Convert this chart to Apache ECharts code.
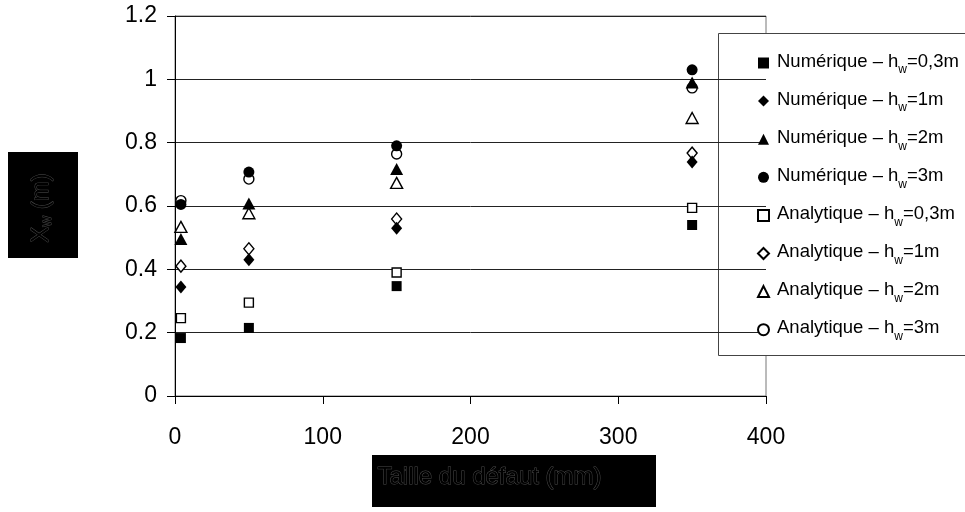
<!DOCTYPE html>
<html>
<head>
<meta charset="utf-8">
<script src="https://cdn.jsdelivr.net/npm/echarts@6/dist/echarts.min.js"></script>
<style>
html,body{margin:0;padding:0;background:#fff;}
#chart{width:965px;height:512px;}
</style>
</head>
<body>
<div id="chart"></div>
<script>
// tailles de défaut (mm)
const tailles = [4, 50, 150, 350]
const xTicks = [0, 100, 200, 300, 400]
const yTicks = [0, 0.2, 0.4, 0.6, 0.8, 1, 1.2]

const numerique03 = [0.183, 0.215, 0.347, 0.54]
const numerique1 = [0.344, 0.43, 0.53, 0.739]
const numerique2 = [0.496, 0.608, 0.717, 0.99]
const numerique3 = [0.605, 0.707, 0.79, 1.03]
const analytique03 = [0.246, 0.295, 0.39, 0.594]
const analytique1 = [0.41, 0.465, 0.559, 0.767]
const analytique2 = [0.534, 0.577, 0.673, 0.878]
const analytique3 = [0.617, 0.685, 0.764, 0.973]

const hauteurs = ['0,3m', '1m', '2m', '3m']

const font = 'Liberation Sans, Arial, sans-serif'

function pairs(vals){
    let out = []
    for(let i = 0;i<vals.length;i++){
        out.push([tailles[i], vals[i]])
    }
    return out
}

function serie(name, vals, symbol, size, open){
    return {
        name: name,
        type: 'scatter',
        data: pairs(vals),
        symbol: symbol,
        symbolSize: size,
        itemStyle: open
            ? {color:'#fff', borderColor:'#000', borderWidth:1.4, opacity:1}
            : {color:'#000', borderColor:'#000', borderWidth:0, opacity:1},
        emphasis: {disabled:true},
        z: open ? 3 : 4
    }
}

const series = [
    serie('Numérique|' + hauteurs[0], numerique03, 'rect', 10, false),
    serie('Numérique|' + hauteurs[1], numerique1, 'diamond', [11,13], false),
    serie('Numérique|' + hauteurs[2], numerique2, 'triangle', [13,12], false),
    serie('Numérique|' + hauteurs[3], numerique3, 'circle', 11, false),
    serie('Analytique|' + hauteurs[0], analytique03, 'rect', 9, true),
    serie('Analytique|' + hauteurs[1], analytique1, 'diamond', [10,12], true),
    serie('Analytique|' + hauteurs[2], analytique2, 'triangle', [12,11], true),
    serie('Analytique|' + hauteurs[3], analytique3, 'circle', 10, true)
]

let chart = echarts.init(document.getElementById('chart'))
chart.setOption({
    animation: false,
    backgroundColor: '#fff',
    textStyle: {fontFamily: font},
    grid: {
        left: 175, right: 199, top: 16, bottom: 116,
        show: true, borderColor: '#777', borderWidth: 1, backgroundColor: 'transparent'
    },
    xAxis: {
        type: 'value',
        min: xTicks[0], max: xTicks[xTicks.length-1], interval: 100,
        axisLine: {show:true, lineStyle:{color:'#000', width:1}},
        axisTick: {show:true, length:8, lineStyle:{color:'#000'}},
        axisLabel: {fontSize:23, color:'#000', margin:30, fontFamily:font},
        splitLine: {show:false}
    },
    yAxis: {
        type: 'value',
        min: yTicks[0], max: yTicks[yTicks.length-1], interval: 0.2,
        axisLine: {show:true, lineStyle:{color:'#000', width:1}},
        axisTick: {show:true, length:8, lineStyle:{color:'#000'}},
        axisLabel: {fontSize:23, color:'#000', margin:18, fontFamily:font},
        splitLine: {show:true, lineStyle:{color:'#222', width:1}}
    },
    legend: {
        orient: 'vertical',
        left: 752, top: 47,
        itemWidth: 11, itemHeight: 11,
        itemGap: 14.1,
        data: series.map(s => s.name),
        formatter: function(name){
            let p = name.split('|')
            return '{t|' + p[0] + ' – h}{s|w}{t|=' + p[1] + '}'
        },
        textStyle: {
            color: '#000',
            padding: [0,0,0,3],
            rich: {
                t: {fontSize:18.5, fontFamily:font, color:'#000', lineHeight:22, verticalAlign:'top'},
                s: {fontSize:12, fontFamily:font, color:'#000', lineHeight:12, padding:[12,0,0,0], verticalAlign:'top'}
            }
        }
    },
    graphic: [
        {
            type: 'rect', left: 718, top: 33, z: 0,
            shape: {width: 260, height: 322},
            style: {fill:'#fff', stroke:'#444', lineWidth:1}
        },
        {
            type: 'rect', left: 8, top: 152, z: 10,
            shape: {width: 70, height: 106},
            style: {fill:'#000'}
        },
        {
            type: 'text', x: 41, y: 208, rotation: Math.PI/2, z: 11,
            style: {
                text: '{a|X}{b|w}{a| (m)}',
                align: 'center', verticalAlign: 'middle',
                rich: {
                    a: {fontSize:24, fontFamily:font, fill:'#000', stroke:'#4d4d4d', lineWidth:0.9, lineHeight:26},
                    b: {fontSize:15, fontFamily:font, fill:'#000', stroke:'#4d4d4d', lineWidth:0.9, lineHeight:15, verticalAlign:'bottom'}
                }
            }
        },
        {
            type: 'rect', left: 372, top: 455, z: 10,
            shape: {width: 284, height: 52},
            style: {fill:'#000'}
        },
        {
            type: 'text', left: 377, top: 465, z: 11,
            style: {
                text: 'Taille du défaut (mm)',
                font: '24px ' + font,
                fill: '#000', stroke: '#4d4d4d', lineWidth: 0.9
            }
        }
    ],
    series: series
})
</script>
</body>
</html>
